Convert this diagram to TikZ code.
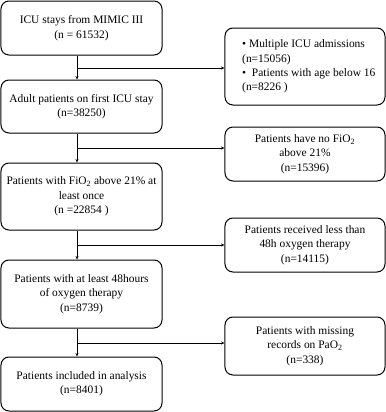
\documentclass[tikz,border=0pt]{standalone}
\usepackage{fontspec}
\setmainfont{Liberation Serif}
\usetikzlibrary{arrows.meta}
\begin{document}
\begin{tikzpicture}[x=1bp,y=-1bp,
  box/.style={draw, rounded corners=8bp, line width=1bp, align=center,
    font=\fontsize{11.5}{14.5}\selectfont, inner sep=0pt},
  lbox/.style={box, minimum width=161bp},
  rbox/.style={box, minimum width=160bp},
  txt/.style={font=\fontsize{11.5}{14.5}\selectfont, inner sep=0pt},
  arr/.style={-{Stealth[length=3.5bp,width=3bp]}, line width=0.9bp}]
\useasboundingbox (0,0) rectangle (386,412);
\node[lbox, minimum height=54bp] (a) at (81.5,28) {ICU stays from MIMIC III\\(n = 61532)};
\node[lbox, minimum height=53bp] (b) at (81.5,106.5) {Adult patients on first ICU stay\\(n=38250)};
\node[lbox, minimum height=67bp] (c) at (81.5,196.5) {Patients with FiO\textsubscript{2} above 21\% at\\least once\\(n =22854 )};
\node[lbox, minimum height=68bp] (d) at (81.5,294) {Patients with at least 48hours\\of oxygen therapy\\(n=8739)};
\node[lbox, minimum height=54bp] (e) at (81.5,384) {Patients included in analysis\\(n=8401)};
\node[rbox, minimum height=77bp] (r1) at (305,66.5) {};
\node[txt, align=left, anchor=west] (r1t) at (242,66.5) {\textbullet{} Multiple ICU admissions\\(n=15056)\\\textbullet{}\ \ Patients with age below 16\\(n=8226 )};
\node[rbox, minimum height=54bp] (r2) at (305,154) {Patients have no FiO\textsubscript{2}\\above 21\%\\(n=15396)};
\node[rbox, minimum height=54bp] (r3) at (305,245) {Patients received less than\\48h oxygen therapy\\(n=14115)};
\node[rbox, minimum height=58bp] (r4) at (305,346) {Patients with missing\\records on PaO\textsubscript{2}\\(n=338)};
\coordinate (vx) at (77,0);
\coordinate (j1) at (77,68);
\coordinate (j2) at (77,148);
\coordinate (j3) at (77,245);
\coordinate (j4) at (77,343);
\draw[arr] (a.south -| vx) -- (b.north -| vx);
\draw[arr] (b.south -| vx) -- (c.north -| vx);
\draw[arr] (c.south -| vx) -- (d.north -| vx);
\draw[arr] (d.south -| vx) -- (e.north -| vx);
\draw[arr] (j1) -- (r1.west |- j1);
\draw[arr] (j2) -- (r2.west |- j2);
\draw[arr] (j3) -- (r3.west |- j3);
\draw[arr] (j4) -- (r4.west |- j4);
\end{tikzpicture}
\end{document}
